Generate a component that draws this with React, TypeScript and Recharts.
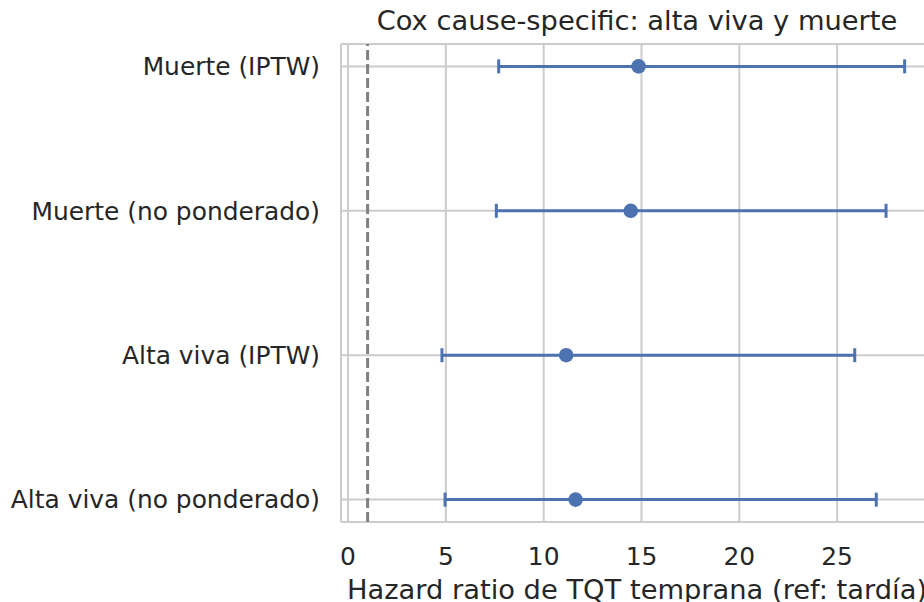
import {
  ScatterChart,
  Scatter,
  XAxis,
  YAxis,
  CartesianGrid,
  ErrorBar,
  ReferenceLine,
  ReferenceArea,
  Label,
} from "recharts";

const labels = [
  "Muerte (IPTW)",
  "Muerte (no ponderado)",
  "Alta viva (IPTW)",
  "Alta viva (no ponderado)",
];
const hr = [14.85, 14.45, 11.15, 11.63];
const lower = [7.7, 7.58, 4.8, 4.96];
const upper = [28.45, 27.5, 25.9, 27.0];
const xTicks = [0, 5, 10, 15, 20, 25];

const data = labels.map((name, i) => ({
  name,
  row: i,
  hr: hr[i],
  err: [hr[i] - lower[i], upper[i] - hr[i]],
}));

const font = "'DejaVu Sans', sans-serif";
const ink = "#262626";
const blue = "#4c72b0";
const grid = "#cccccc";

export default function App() {
  return (
    <div
      style={{
        position: "fixed",
        left: 0,
        top: 0,
        width: 924,
        height: 602,
        overflow: "hidden",
        background: "#fff",
        fontFamily: font,
      }}
    >
      <ScatterChart
        width={940}
        height={602}
        margin={{ top: 44, right: 7, bottom: 0, left: 0 }}
      >
        <CartesianGrid stroke={grid} strokeWidth={2} />
        <ReferenceArea fill="none" stroke={grid} strokeWidth={2} fillOpacity={0} />
        <XAxis
          type="number"
          dataKey="hr"
          domain={[-0.36, 29.9]}
          allowDataOverflow
          ticks={xTicks}
          height={80}
          tickSize={0}
          tickMargin={25}
          axisLine={false}
          tickLine={false}
          tick={{ fontSize: 24.9, fill: ink, fontFamily: font }}
        >
          <Label
            value="Hazard ratio de TQT temprana (ref: tardía)"
            position="insideBottom"
            offset={3}
            style={{ fontSize: 27.3, fill: ink, fontFamily: font }}
          />
        </XAxis>
        <YAxis
          type="number"
          dataKey="row"
          domain={[-0.155, 3.155]}
          allowDataOverflow
          reversed
          ticks={[0, 1, 2, 3]}
          tickFormatter={(v: number) => labels[v]}
          width={341}
          tickSize={0}
          tickMargin={21}
          axisLine={false}
          tickLine={false}
          tick={{ fontSize: 24.9, fill: ink, fontFamily: font }}
        />
        <ReferenceLine
          x={1}
          stroke="#808080"
          strokeWidth={3}
          strokeDasharray="10 4"
        />
        <Scatter
          data={data}
          fill={blue}
          isAnimationActive={false}
          shape={(p: any) => <circle cx={p.cx} cy={p.cy} r={7.3} fill={blue} />}
        >
          <ErrorBar
            dataKey="err"
            direction="x"
            width={7}
            stroke={blue}
            strokeWidth={3}
          />
        </Scatter>
      </ScatterChart>
      <svg
        width={924}
        height={44}
        style={{ position: "absolute", left: 0, top: 0, pointerEvents: "none" }}
      >
        <text
          x={637}
          y={30}
          textAnchor="middle"
          fontSize={27.3}
          fill={ink}
          fontFamily={font}
        >
          Cox cause-specific: alta viva y muerte
        </text>
      </svg>
    </div>
  );
}
